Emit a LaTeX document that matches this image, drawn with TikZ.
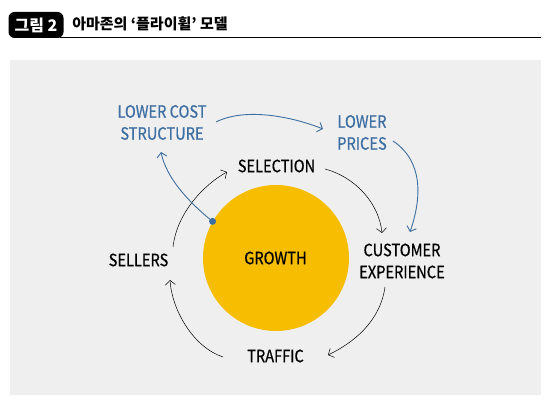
\documentclass[tikz,border=0pt]{standalone}
\usepackage{fontspec}
\setmainfont{Noto Sans CJK KR}
\newfontfamily\labelfont{Noto Sans CJK KR}[FakeStretch=0.86,FakeBold=0.6]
\usetikzlibrary{arrows.meta}
\definecolor{flyblue}{HTML}{3D6FA3}
\definecolor{flyyellow}{HTML}{F7BD00}
\definecolor{flygray}{HTML}{EFEFEF}
\begin{document}
\begin{tikzpicture}[x=1pt,y=-1pt,line width=0.5pt,every node/.style={font=\labelfont\fontsize{17}{22}\selectfont,inner sep=1pt,align=center},
  flow/.style={draw=black,line width=0.5pt,-{Straight Barb[length=4.5pt,width=10pt]}},
  flowblue/.style={draw=flyblue,line width=0.9pt,-{Straight Barb[length=4.5pt,width=10pt]}},
  blue label/.style={text=flyblue}]
\useasboundingbox (0,0) rectangle (552,406);
\fill[flygray] (10,60) rectangle (541,395);
% title
\draw[line width=0.9pt] (60,37.5) -- (541,37.5);
\node[fill=black,text=white,rounded corners=6pt,minimum width=55,minimum height=26,font=\bfseries\fontsize{16}{16}\selectfont] (tag) at (36,25) {그림 2};
\node[anchor=west,font=\bfseries\fontsize{15}{15}\selectfont] (title) at (71,24) {아마존의 ‘플라이휠’ 모델};
% wheel
\node[circle,fill=flyyellow,minimum size=146,inner sep=0pt] (growth) at (276,258) {};
\node at (275.5,258) {GROWTH};
\node (selection) at (276.5,166) {SELECTION};
\node (customer) at (402,261) {CUSTOMER\\EXPERIENCE};
\node (traffic) at (275.5,356) {TRAFFIC};
\node (sellers) at (138.5,260) {SELLERS};
\node[blue label] (lowcost) at (162,122.5) {LOWER COST\\STRUCTURE};
\node[blue label] (lowprice) at (362,132.5) {LOWER\\PRICES};
\fill[flyblue] (growth.150) circle (3.5);
% loop
\draw[flow] ([shift={(34.5,-13)}]sellers.center) .. controls +(4,-35) and +(-22,12) .. ([shift={(-49.5,6)}]selection.center);
\draw[flow] ([shift={(48.5,3)}]selection.center) .. controls +(30,8) and +(-3,-30) .. ([shift={(-20,-28)}]customer.center);
\draw[flow] ([shift={(-17,26)}]customer.center) .. controls +(-5,35) and +(25,-12) .. ([shift={(52.5,-1)}]traffic.center);
\draw[flow] ([shift={(-52.5,1)}]traffic.center) .. controls +(-30,-10) and +(2,30) .. ([shift={(31.5,20)}]sellers.center);
% blue arrows
\draw[flowblue] (growth.150) .. controls +(-25,-20) and +(5,25) .. ([shift={(-1,29.5)}]lowcost.center);
\draw[flowblue] ([shift={(54,-0.5)}]lowcost.center) .. controls +(30,-15) and +(-30,-12) .. ([shift={(-39,-3.5)}]lowprice.center);
\draw[flowblue] ([shift={(31,8.5)}]lowprice.center) .. controls +(30,20) and +(12,-35) .. ([shift={(8,-29)}]customer.center);
\end{tikzpicture}
\end{document}
